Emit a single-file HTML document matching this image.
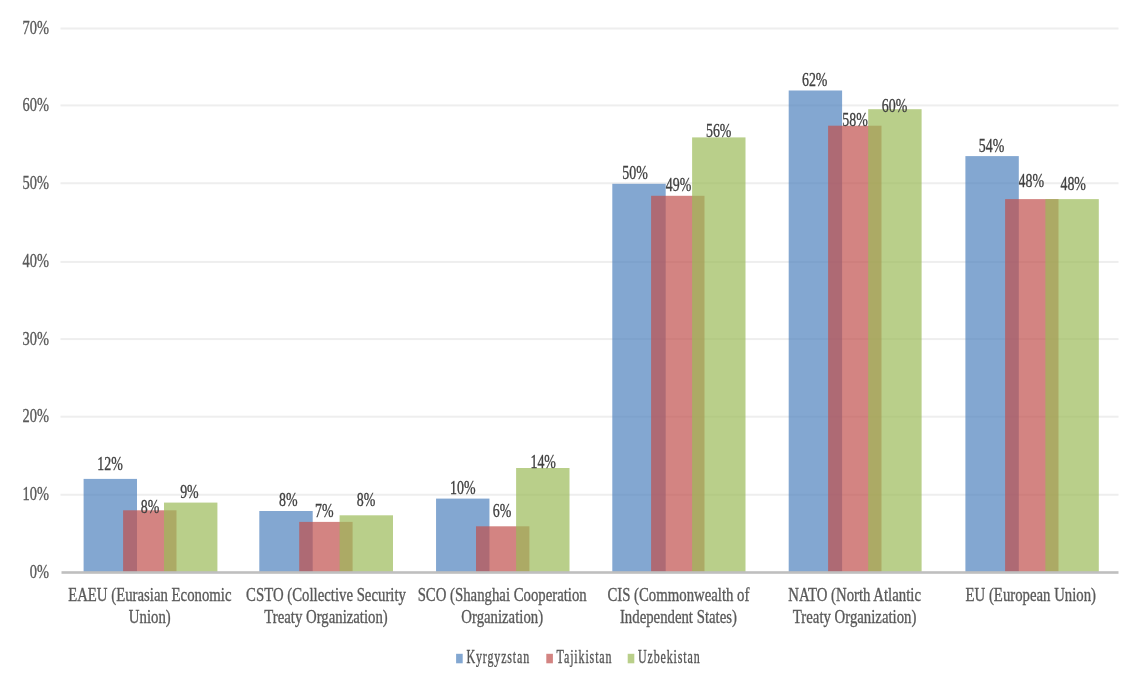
<!DOCTYPE html>
<html><head><meta charset="utf-8"><style>
html,body{margin:0;padding:0;background:#fff;width:1130px;height:674px;overflow:hidden}
svg{display:block;font-family:"Liberation Serif",serif}
</style></head><body>
<svg width="1130" height="674" viewBox="0 0 1130 674">
<defs><clipPath id="clipEU"><rect x="1018.8" y="150" width="60" height="60"/></clipPath></defs>
<rect width="1130" height="674" fill="#fff"/>
<rect x="60.5" y="493.75" width="1058.0" height="2" fill="#EEEEEE"/>
<rect x="60.5" y="415.70" width="1058.0" height="2" fill="#EEEEEE"/>
<rect x="60.5" y="338.10" width="1058.0" height="2" fill="#EEEEEE"/>
<rect x="60.5" y="260.90" width="1058.0" height="2" fill="#EEEEEE"/>
<rect x="60.5" y="182.25" width="1058.0" height="2" fill="#EEEEEE"/>
<rect x="60.5" y="104.40" width="1058.0" height="2" fill="#EEEEEE"/>
<rect x="60.5" y="27.50" width="1058.0" height="2" fill="#EEEEEE"/>
<rect x="83.60" y="478.90" width="53.4" height="93.50" fill="#4F81BD" fill-opacity="0.7"/>
<rect x="123.10" y="510.30" width="53.4" height="62.10" fill="#C0504D" fill-opacity="0.7"/>
<rect x="164.00" y="502.60" width="53.4" height="69.80" fill="#9BBB59" fill-opacity="0.7"/>
<rect x="259.30" y="511.00" width="53.4" height="61.40" fill="#4F81BD" fill-opacity="0.7"/>
<rect x="299.20" y="521.90" width="53.4" height="50.50" fill="#C0504D" fill-opacity="0.7"/>
<rect x="339.60" y="515.30" width="53.4" height="57.10" fill="#9BBB59" fill-opacity="0.7"/>
<rect x="436.05" y="498.60" width="53.4" height="73.80" fill="#4F81BD" fill-opacity="0.7"/>
<rect x="476.00" y="526.30" width="53.4" height="46.10" fill="#C0504D" fill-opacity="0.7"/>
<rect x="516.10" y="468.00" width="53.4" height="104.40" fill="#9BBB59" fill-opacity="0.7"/>
<rect x="612.30" y="183.80" width="53.4" height="388.60" fill="#4F81BD" fill-opacity="0.7"/>
<rect x="651.10" y="195.80" width="53.4" height="376.60" fill="#C0504D" fill-opacity="0.7"/>
<rect x="692.10" y="137.40" width="53.4" height="435.00" fill="#9BBB59" fill-opacity="0.7"/>
<rect x="788.70" y="90.50" width="53.4" height="481.90" fill="#4F81BD" fill-opacity="0.7"/>
<rect x="828.10" y="125.70" width="53.4" height="446.70" fill="#C0504D" fill-opacity="0.7"/>
<rect x="868.20" y="109.20" width="53.4" height="463.20" fill="#9BBB59" fill-opacity="0.7"/>
<rect x="965.40" y="156.10" width="53.4" height="416.30" fill="#4F81BD" fill-opacity="0.7"/>
<rect x="1005.10" y="199.10" width="53.4" height="373.30" fill="#C0504D" fill-opacity="0.7"/>
<rect x="1045.40" y="199.10" width="53.4" height="373.30" fill="#9BBB59" fill-opacity="0.7"/>
<rect x="61.5" y="571.20" width="1057.0" height="2.6" fill="#BFBFBF"/>
<rect x="456.10" y="653.8" width="6.6" height="9.5" fill="#4F81BD" fill-opacity="0.7"/>
<rect x="546.30" y="653.8" width="6.6" height="9.5" fill="#C0504D" fill-opacity="0.7"/>
<rect x="627.70" y="653.8" width="6.6" height="9.5" fill="#9BBB59" fill-opacity="0.7"/>
<g style="filter:blur(0.3px)">
<text x="0" y="0" transform="translate(49.00,577.90) scale(0.74,1)" text-anchor="end" fill="#595959" stroke="#595959" stroke-width="0.35" font-size="19.5">0%</text>
<text x="0" y="0" transform="translate(49.00,500.25) scale(0.74,1)" text-anchor="end" fill="#595959" stroke="#595959" stroke-width="0.35" font-size="19.5">10%</text>
<text x="0" y="0" transform="translate(49.00,422.20) scale(0.74,1)" text-anchor="end" fill="#595959" stroke="#595959" stroke-width="0.35" font-size="19.5">20%</text>
<text x="0" y="0" transform="translate(49.00,344.60) scale(0.74,1)" text-anchor="end" fill="#595959" stroke="#595959" stroke-width="0.35" font-size="19.5">30%</text>
<text x="0" y="0" transform="translate(49.00,267.40) scale(0.74,1)" text-anchor="end" fill="#595959" stroke="#595959" stroke-width="0.35" font-size="19.5">40%</text>
<text x="0" y="0" transform="translate(49.00,188.75) scale(0.74,1)" text-anchor="end" fill="#595959" stroke="#595959" stroke-width="0.35" font-size="19.5">50%</text>
<text x="0" y="0" transform="translate(49.00,110.90) scale(0.74,1)" text-anchor="end" fill="#595959" stroke="#595959" stroke-width="0.35" font-size="19.5">60%</text>
<text x="0" y="0" transform="translate(49.00,34.00) scale(0.74,1)" text-anchor="end" fill="#595959" stroke="#595959" stroke-width="0.35" font-size="19.5">70%</text>
<text x="0" y="0" transform="translate(110.05,469.95) scale(0.725,1)" text-anchor="middle" fill="#404040" stroke="#404040" stroke-width="0.35" font-size="19.2">12%</text>
<text x="0" y="0" transform="translate(150.00,512.65) scale(0.725,1)" text-anchor="middle" fill="#404040" stroke="#404040" stroke-width="0.35" font-size="19.2">8%</text>
<text x="0" y="0" transform="translate(189.40,497.85) scale(0.725,1)" text-anchor="middle" fill="#404040" stroke="#404040" stroke-width="0.35" font-size="19.2">9%</text>
<text x="0" y="0" transform="translate(288.20,506.15) scale(0.725,1)" text-anchor="middle" fill="#404040" stroke="#404040" stroke-width="0.35" font-size="19.2">8%</text>
<text x="0" y="0" transform="translate(324.20,517.35) scale(0.725,1)" text-anchor="middle" fill="#404040" stroke="#404040" stroke-width="0.35" font-size="19.2">7%</text>
<text x="0" y="0" transform="translate(366.00,505.55) scale(0.725,1)" text-anchor="middle" fill="#404040" stroke="#404040" stroke-width="0.35" font-size="19.2">8%</text>
<text x="0" y="0" transform="translate(462.80,494.35) scale(0.725,1)" text-anchor="middle" fill="#404040" stroke="#404040" stroke-width="0.35" font-size="19.2">10%</text>
<text x="0" y="0" transform="translate(502.00,517.25) scale(0.725,1)" text-anchor="middle" fill="#404040" stroke="#404040" stroke-width="0.35" font-size="19.2">6%</text>
<text x="0" y="0" transform="translate(543.20,467.55) scale(0.725,1)" text-anchor="middle" fill="#404040" stroke="#404040" stroke-width="0.35" font-size="19.2">14%</text>
<text x="0" y="0" transform="translate(635.00,178.55) scale(0.725,1)" text-anchor="middle" fill="#404040" stroke="#404040" stroke-width="0.35" font-size="19.2">50%</text>
<text x="0" y="0" transform="translate(678.50,190.65) scale(0.725,1)" text-anchor="middle" fill="#404040" stroke="#404040" stroke-width="0.35" font-size="19.2">49%</text>
<text x="0" y="0" transform="translate(718.70,136.55) scale(0.725,1)" text-anchor="middle" fill="#404040" stroke="#404040" stroke-width="0.35" font-size="19.2">56%</text>
<text x="0" y="0" transform="translate(814.70,86.15) scale(0.725,1)" text-anchor="middle" fill="#404040" stroke="#404040" stroke-width="0.35" font-size="19.2">62%</text>
<text x="0" y="0" transform="translate(855.10,125.85) scale(0.725,1)" text-anchor="middle" fill="#404040" stroke="#404040" stroke-width="0.35" font-size="19.2">58%</text>
<text x="0" y="0" transform="translate(894.60,111.55) scale(0.725,1)" text-anchor="middle" fill="#404040" stroke="#404040" stroke-width="0.35" font-size="19.2">60%</text>
<text x="0" y="0" transform="translate(991.60,151.95) scale(0.725,1)" text-anchor="middle" fill="#404040" stroke="#404040" stroke-width="0.35" font-size="19.2">54%</text>
<g clip-path="url(#clipEU)"><text x="0" y="0" transform="translate(1031.30,187.15) scale(0.725,1)" text-anchor="middle" fill="#404040" stroke="#404040" stroke-width="0.35" font-size="19.2">48%</text></g>
<text x="0" y="0" transform="translate(1073.20,189.65) scale(0.725,1)" text-anchor="middle" fill="#404040" stroke="#404040" stroke-width="0.35" font-size="19.2">48%</text>
<text x="0" y="0" transform="translate(149.80,600.80) scale(0.758,1)" text-anchor="middle" fill="#595959" stroke="#595959" stroke-width="0.35" font-size="19.5">EAEU (Eurasian Economic</text>
<text x="0" y="0" transform="translate(149.80,622.80) scale(0.758,1)" text-anchor="middle" fill="#595959" stroke="#595959" stroke-width="0.35" font-size="19.5">Union)</text>
<text x="0" y="0" transform="translate(326.00,600.80) scale(0.758,1)" text-anchor="middle" fill="#595959" stroke="#595959" stroke-width="0.35" font-size="19.5">CSTO (Collective Security</text>
<text x="0" y="0" transform="translate(326.00,622.80) scale(0.758,1)" text-anchor="middle" fill="#595959" stroke="#595959" stroke-width="0.35" font-size="19.5">Treaty Organization)</text>
<text x="0" y="0" transform="translate(502.20,600.80) scale(0.758,1)" text-anchor="middle" fill="#595959" stroke="#595959" stroke-width="0.35" font-size="19.5">SCO (Shanghai Cooperation</text>
<text x="0" y="0" transform="translate(502.20,622.80) scale(0.758,1)" text-anchor="middle" fill="#595959" stroke="#595959" stroke-width="0.35" font-size="19.5">Organization)</text>
<text x="0" y="0" transform="translate(678.40,600.80) scale(0.758,1)" text-anchor="middle" fill="#595959" stroke="#595959" stroke-width="0.35" font-size="19.5">CIS (Commonwealth of</text>
<text x="0" y="0" transform="translate(678.40,622.80) scale(0.758,1)" text-anchor="middle" fill="#595959" stroke="#595959" stroke-width="0.35" font-size="19.5">Independent States)</text>
<text x="0" y="0" transform="translate(854.60,600.80) scale(0.758,1)" text-anchor="middle" fill="#595959" stroke="#595959" stroke-width="0.35" font-size="19.5">NATO (North Atlantic</text>
<text x="0" y="0" transform="translate(854.60,622.80) scale(0.758,1)" text-anchor="middle" fill="#595959" stroke="#595959" stroke-width="0.35" font-size="19.5">Treaty Organization)</text>
<text x="0" y="0" transform="translate(1030.80,600.80) scale(0.758,1)" text-anchor="middle" fill="#595959" stroke="#595959" stroke-width="0.35" font-size="19.5">EU (European Union)</text>
<text x="0" y="0" transform="translate(466.40,663.00) scale(0.67,1)" text-anchor="start" fill="#555555" stroke="#555555" stroke-width="0.35" font-size="17.9" letter-spacing="1.3">Kyrgyzstan</text>
<text x="0" y="0" transform="translate(556.60,663.00) scale(0.67,1)" text-anchor="start" fill="#555555" stroke="#555555" stroke-width="0.35" font-size="17.9" letter-spacing="1.3">Tajikistan</text>
<text x="0" y="0" transform="translate(638.00,663.00) scale(0.67,1)" text-anchor="start" fill="#555555" stroke="#555555" stroke-width="0.35" font-size="17.9" letter-spacing="1.3">Uzbekistan</text>
</g>
</svg>
</body></html>
